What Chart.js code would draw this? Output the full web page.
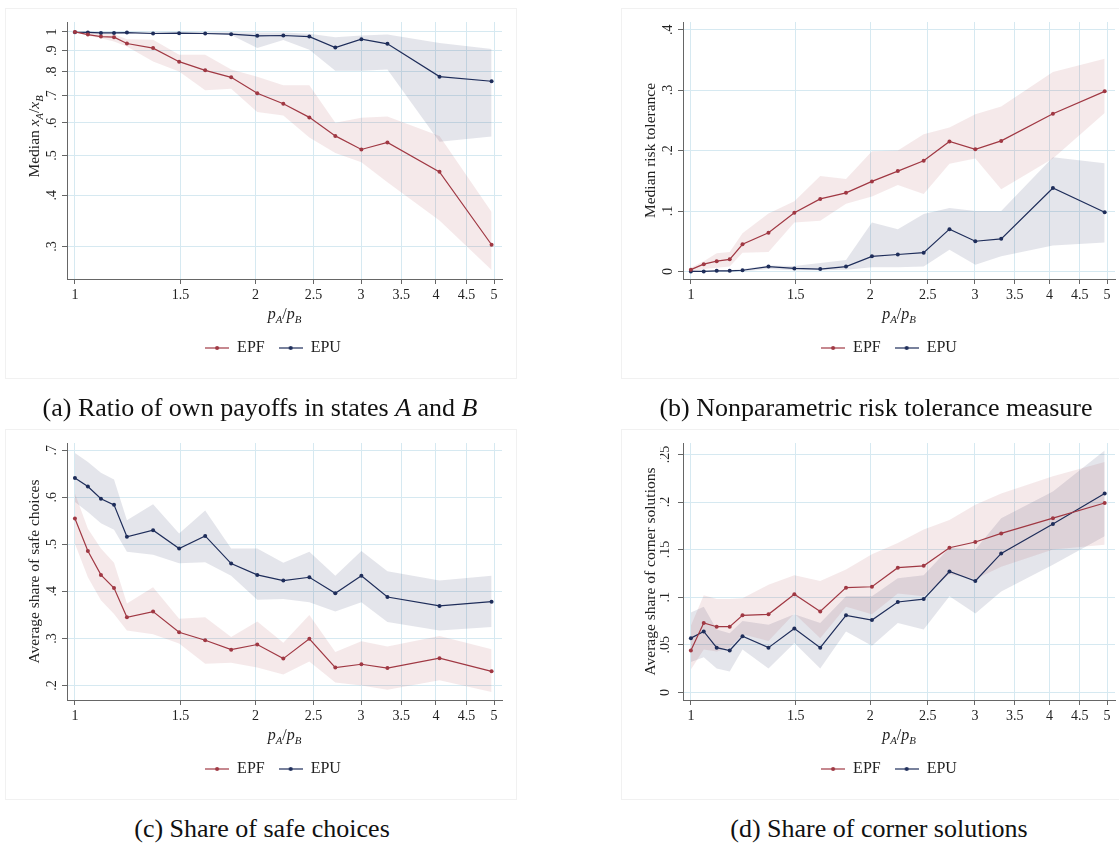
<!DOCTYPE html>
<html>
<head>
<meta charset="utf-8">
<title>Risk choices by price ratio</title>
<script src="https://cdn.jsdelivr.net/npm/chart.js@4.4.1/dist/chart.umd.min.js"></script>
<style>
body { margin:0; background:#fff; width:1119px; height:846px; position:relative; overflow:hidden; font-family:"Liberation Serif", serif; }
.box { position:absolute; border:1px solid #f1f1f1; }
.pane { position:absolute; }
.cap { position:absolute; font-size:26px; color:#111; white-space:nowrap; transform:translate(-50%,-50%); }
</style>
</head>
<body>
<div class="box" style="left:5px;top:8px;width:510px;height:369px"></div>
<div class="box" style="left:621px;top:8px;width:510px;height:369px"></div>
<div class="box" style="left:5px;top:429px;width:510px;height:369px"></div>
<div class="box" style="left:621px;top:429px;width:510px;height:369px"></div>

<div class="pane" style="left:0;top:0"><canvas id="chartA" width="560" height="378"></canvas></div>
<div class="pane" style="left:616px;top:0"><canvas id="chartB" width="503" height="378"></canvas></div>
<div class="pane" style="left:0;top:421px"><canvas id="chartC" width="560" height="378"></canvas></div>
<div class="pane" style="left:616px;top:421px"><canvas id="chartD" width="503" height="378"></canvas></div>

<div class="cap" style="left:260px;top:408px">(a) Ratio of own payoffs in states <i>A</i> and <i>B</i></div>
<div class="cap" style="left:876px;top:408px">(b) Nonparametric risk tolerance measure</div>
<div class="cap" style="left:262px;top:829px">(c) Share of safe choices</div>
<div class="cap" style="left:879px;top:829px">(d) Share of corner solutions</div>

<script>
// price ratio p_A/p_B of the 17 budget lines
var ratio = [1, 1.051, 1.105, 1.162, 1.221, 1.350, 1.492, 1.649, 1.822, 2.014, 2.226, 2.460, 2.718, 3.004, 3.320, 4.055, 4.953];
var xTicks = [1, 1.5, 2, 2.5, 3, 3.5, 4, 4.5, 5];
var seriesNames = ['EPF', 'EPU'];
var lineColors = ['#a03843', '#1e2d5a'];
var bandColors = ['rgba(160,56,67,0.11)', 'rgba(30,45,90,0.12)'];

// (a) median x_A/x_B
var payEPF   = [1.0, 0.985, 0.974, 0.971, 0.937, 0.913, 0.846, 0.806, 0.775, 0.709, 0.668, 0.619, 0.558, 0.517, 0.538, 0.456, 0.303];
var payEPFhi = [1.0, 0.995, 0.99, 0.987, 0.96, 0.957, 0.88, 0.88, 0.81, 0.777, 0.741, 0.741, 0.601, 0.618, 0.622, 0.558, 0.364];
var payEPFlo = [1.0, 0.978, 0.965, 0.947, 0.921, 0.847, 0.801, 0.721, 0.727, 0.638, 0.626, 0.553, 0.507, 0.481, 0.43, 0.347, 0.263];
var payEPU   = [0.998, 0.997, 0.994, 0.994, 0.996, 0.991, 0.993, 0.991, 0.987, 0.978, 0.980, 0.974, 0.916, 0.960, 0.935, 0.778, 0.758];
var payEPUhi = [1.0, 1.0, 1.0, 1.0, 1.0, 0.998, 0.998, 0.998, 0.998, 0.996, 0.997, 0.99, 0.97, 0.98, 0.985, 0.939, 0.908];
var payEPUlo = [0.996, 0.994, 0.99, 0.99, 0.992, 0.987, 0.989, 0.987, 0.982, 0.913, 0.956, 0.905, 0.804, 0.804, 0.81, 0.54, 0.556];
var payTicks = [0.3, 0.4, 0.5, 0.6, 0.7, 0.8, 0.9, 1];

// (b) median risk tolerance
var tolEPF   = [0.003, 0.012, 0.017, 0.020, 0.045, 0.064, 0.097, 0.120, 0.130, 0.149, 0.166, 0.183, 0.215, 0.202, 0.216, 0.261, 0.298];
var tolEPFhi = [0.006, 0.017, 0.030, 0.032, 0.063, 0.096, 0.116, 0.158, 0.153, 0.199, 0.200, 0.227, 0.238, 0.260, 0.273, 0.330, 0.352];
var tolEPFlo = [0.0, 0.004, 0.006, 0.008, 0.031, 0.032, 0.081, 0.084, 0.112, 0.124, 0.143, 0.128, 0.178, 0.187, 0.136, 0.187, 0.262];
var tolEPU   = [0, 0, 0.001, 0.001, 0.002, 0.008, 0.005, 0.004, 0.008, 0.025, 0.028, 0.031, 0.070, 0.050, 0.054, 0.138, 0.098];
var tolEPUhi = [0.001, 0.001, 0.002, 0.002, 0.004, 0.010, 0.009, 0.014, 0.019, 0.081, 0.070, 0.095, 0.105, 0.100, 0.100, 0.189, 0.179];
var tolEPUlo = [0, 0, 0, 0, 0, 0.004, 0.002, 0.002, 0.003, 0.007, 0.007, 0.008, 0.036, 0.011, 0.025, 0.043, 0.048];
var tolTicks = [0, 0.1, 0.2, 0.3, 0.4];

// (c) average share of safe choices
var safeEPF   = [0.555, 0.486, 0.435, 0.407, 0.345, 0.357, 0.313, 0.296, 0.276, 0.287, 0.257, 0.299, 0.238, 0.245, 0.237, 0.258, 0.230];
var safeEPFhi = [0.608, 0.533, 0.491, 0.461, 0.374, 0.409, 0.342, 0.345, 0.303, 0.336, 0.291, 0.350, 0.271, 0.294, 0.283, 0.305, 0.277];
var safeEPFlo = [0.501, 0.430, 0.381, 0.352, 0.317, 0.309, 0.289, 0.246, 0.248, 0.238, 0.223, 0.251, 0.206, 0.200, 0.191, 0.211, 0.186];
var safeEPU   = [0.641, 0.623, 0.597, 0.584, 0.516, 0.530, 0.491, 0.518, 0.459, 0.435, 0.423, 0.430, 0.396, 0.433, 0.388, 0.369, 0.378];
var safeEPUhi = [0.694, 0.675, 0.652, 0.638, 0.551, 0.585, 0.523, 0.572, 0.491, 0.491, 0.461, 0.484, 0.433, 0.486, 0.443, 0.423, 0.433];
var safeEPUlo = [0.590, 0.569, 0.545, 0.531, 0.484, 0.478, 0.460, 0.462, 0.433, 0.382, 0.384, 0.377, 0.357, 0.377, 0.335, 0.317, 0.324];
var safeTicks = [0.2, 0.3, 0.4, 0.5, 0.6, 0.7];

// (d) average share of corner solutions
var cornEPF   = [0.044, 0.073, 0.069, 0.069, 0.081, 0.082, 0.103, 0.085, 0.110, 0.111, 0.131, 0.133, 0.152, 0.158, 0.167, 0.183, 0.199];
var cornEPFhi = [0.070, 0.102, 0.098, 0.098, 0.099, 0.113, 0.123, 0.117, 0.129, 0.145, 0.157, 0.171, 0.181, 0.197, 0.209, 0.227, 0.242];
var cornEPFlo = [0.024, 0.045, 0.043, 0.047, 0.061, 0.054, 0.083, 0.057, 0.090, 0.082, 0.104, 0.101, 0.124, 0.119, 0.132, 0.150, 0.155];
var cornEPU   = [0.057, 0.064, 0.047, 0.044, 0.059, 0.047, 0.067, 0.047, 0.081, 0.076, 0.095, 0.098, 0.127, 0.117, 0.146, 0.177, 0.209];
var cornEPUhi = [0.084, 0.090, 0.066, 0.062, 0.075, 0.071, 0.082, 0.073, 0.101, 0.101, 0.120, 0.123, 0.152, 0.150, 0.183, 0.211, 0.254];
var cornEPUlo = [0.032, 0.037, 0.025, 0.022, 0.045, 0.025, 0.052, 0.025, 0.064, 0.049, 0.073, 0.066, 0.101, 0.083, 0.106, 0.134, 0.164];
var cornTicks = [0, 0.05, 0.1, 0.15, 0.2, 0.25];

var FONT = '"Liberation Serif", serif';
Chart.defaults.font.family = FONT;
Chart.defaults.color = '#222';

function stataLabel(v){
  if (v == 0) return '0';
  if (v == 1) return '1';
  return String(+v.toFixed(3)).replace(/^0/, '');
}

function pts(arr){
  return ratio.map(function(x, i){ return {x: x, y: arr[i]}; });
}

function legendIcon(color){
  var c = document.createElement('canvas');
  c.width = 24; c.height = 8;
  var g = c.getContext('2d');
  g.strokeStyle = color; g.lineWidth = 1.2;
  g.beginPath(); g.moveTo(0, 4); g.lineTo(24, 4); g.stroke();
  g.fillStyle = color;
  g.beginPath(); g.arc(12, 4, 2, 0, Math.PI * 2); g.fill();
  return c;
}

// text with italic letters and subscripts, centred on (x,y)
function drawRich(ctx, parts, x, y, size, vertical){
  var sub = size * 0.68;
  function font(p){ return (p[1] ? 'italic ' : '') + (p[2] ? sub : size) + 'px ' + FONT; }
  var total = 0;
  parts.forEach(function(p){ ctx.font = font(p); total += ctx.measureText(p[0]).width; });
  ctx.save();
  ctx.translate(x, y);
  if (vertical) ctx.rotate(-Math.PI / 2);
  ctx.fillStyle = '#222';
  ctx.textBaseline = 'alphabetic';
  var cx = -total / 2;
  parts.forEach(function(p){
    ctx.font = font(p);
    ctx.fillText(p[0], cx, size * 0.33 + (p[2] ? size * 0.22 : 0));
    cx += ctx.measureText(p[0]).width;
  });
  ctx.restore();
}

var xTitle = [['p', true, false], ['A', true, true], ['/', false, false], ['p', true, false], ['B', true, true]];

function titlePlugin(yParts, yShift){
  return {
    id: 'richTitles',
    afterDraw: function(chart){
      var a = chart.chartArea, ctx = chart.ctx;
      drawRich(ctx, xTitle, (a.left + a.right) / 2, a.bottom + 35, 16, false);
      drawRich(ctx, yParts, a.left - 33, (a.top + a.bottom) / 2 + yShift, 15.5, true);
    }
  };
}

function makeChart(id, p){
  var datasets = [
    {label: 'EPF', data: pts(p.epf), borderColor: lineColors[0], backgroundColor: lineColors[0], order: 0},
    {label: 'EPU', data: pts(p.epu), borderColor: lineColors[1], backgroundColor: lineColors[1], order: 0},
    {data: pts(p.epfHi), fill: '+1', backgroundColor: bandColors[0], borderWidth: 0, pointRadius: 0, order: 1},
    {data: pts(p.epfLo), fill: false, borderWidth: 0, pointRadius: 0, order: 1},
    {data: pts(p.epuHi), fill: '+1', backgroundColor: bandColors[1], borderWidth: 0, pointRadius: 0, order: 1},
    {data: pts(p.epuLo), fill: false, borderWidth: 0, pointRadius: 0, order: 1}
  ];
  datasets.forEach(function(d, i){
    d.tension = 0;
    if (i < 2) { d.borderWidth = 1.2; d.pointRadius = 2; d.pointBorderWidth = 0; d.fill = false; }
  });
  return new Chart(document.getElementById(id), {
    type: 'line',
    data: {datasets: datasets},
    options: {
      responsive: false,
      animation: false,
      layout: {padding: {left: 44, top: 22, right: p.padRight, bottom: 12}},
      plugins: {
        tooltip: {enabled: false},
        legend: {
          position: 'bottom',
          labels: {
            usePointStyle: true, pointStyleWidth: 24, padding: 14,
            font: {size: 16, family: FONT}, color: '#222',
            generateLabels: function(){
              return seriesNames.map(function(n, i){
                return {text: n, pointStyle: legendIcon(lineColors[i]), fillStyle: lineColors[i],
                        strokeStyle: lineColors[i], lineWidth: 0, fontColor: '#222', hidden: false, datasetIndex: i};
              });
            }
          }
        }
      },
      scales: {
        x: {
          type: 'logarithmic', min: 0.97, max: 5.155,
          afterBuildTicks: function(s){ s.ticks = xTicks.map(function(v){ return {value: v}; }); },
          afterFit: function(s){ s.height = 47; },
          ticks: {callback: function(v){ return String(v); }, maxRotation: 0, autoSkip: false, padding: 3,
                  font: {size: 14}, color: '#222'},
          grid: {color: '#d6e9f1', tickColor: '#666', tickLength: 5},
          border: {color: '#666', width: 1}
        },
        y: {
          type: p.yType, min: p.yMin, max: p.yMax,
          afterBuildTicks: function(s){ s.ticks = p.yTicks.map(function(v){ return {value: v}; }); },
          afterFit: function(s){ s.width = 23; },
          ticks: {callback: function(v){ return stataLabel(v); }, minRotation: 90, maxRotation: 90,
                  crossAlign: 'center', autoSkip: false, padding: 4, font: {size: 14}, color: '#222'},
          grid: {color: '#d6e9f1', tickColor: '#666', tickLength: 5},
          border: {color: '#666', width: 1}
        }
      }
    },
    plugins: [titlePlugin(p.yTitle, p.yShift)]
  });
}

makeChart('chartA', {
  epf: payEPF, epfHi: payEPFhi, epfLo: payEPFlo, epu: payEPU, epuHi: payEPUhi, epuLo: payEPUlo,
  yType: 'logarithmic', yMin: 0.252, yMax: 1.057, yTicks: payTicks, padRight: 58, yShift: -14,
  yTitle: [['Median ', false, false], ['x', true, false], ['A', true, true], ['/', false, false], ['x', true, false], ['B', true, true]]
});
makeChart('chartB', {
  epf: tolEPF, epfHi: tolEPFhi, epfLo: tolEPFlo, epu: tolEPU, epuHi: tolEPUhi, epuLo: tolEPUlo,
  yType: 'linear', yMin: -0.0125, yMax: 0.4127, yTicks: tolTicks, padRight: 1, yShift: 0,
  yTitle: [['Median risk tolerance', false, false]]
});
makeChart('chartC', {
  epf: safeEPF, epfHi: safeEPFhi, epfLo: safeEPFlo, epu: safeEPU, epuHi: safeEPUhi, epuLo: safeEPUlo,
  yType: 'linear', yMin: 0.169, yMax: 0.7155, yTicks: safeTicks, padRight: 58, yShift: 0,
  yTitle: [['Average share of safe choices', false, false]]
});
makeChart('chartD', {
  epf: cornEPF, epfHi: cornEPFhi, epfLo: cornEPFlo, epu: cornEPU, epuHi: cornEPUhi, epuLo: cornEPUlo,
  yType: 'linear', yMin: -0.008, yMax: 0.262, yTicks: cornTicks, padRight: 1, yShift: 0,
  yTitle: [['Average share of corner solutions', false, false]]
});
</script>
</body>
</html>
